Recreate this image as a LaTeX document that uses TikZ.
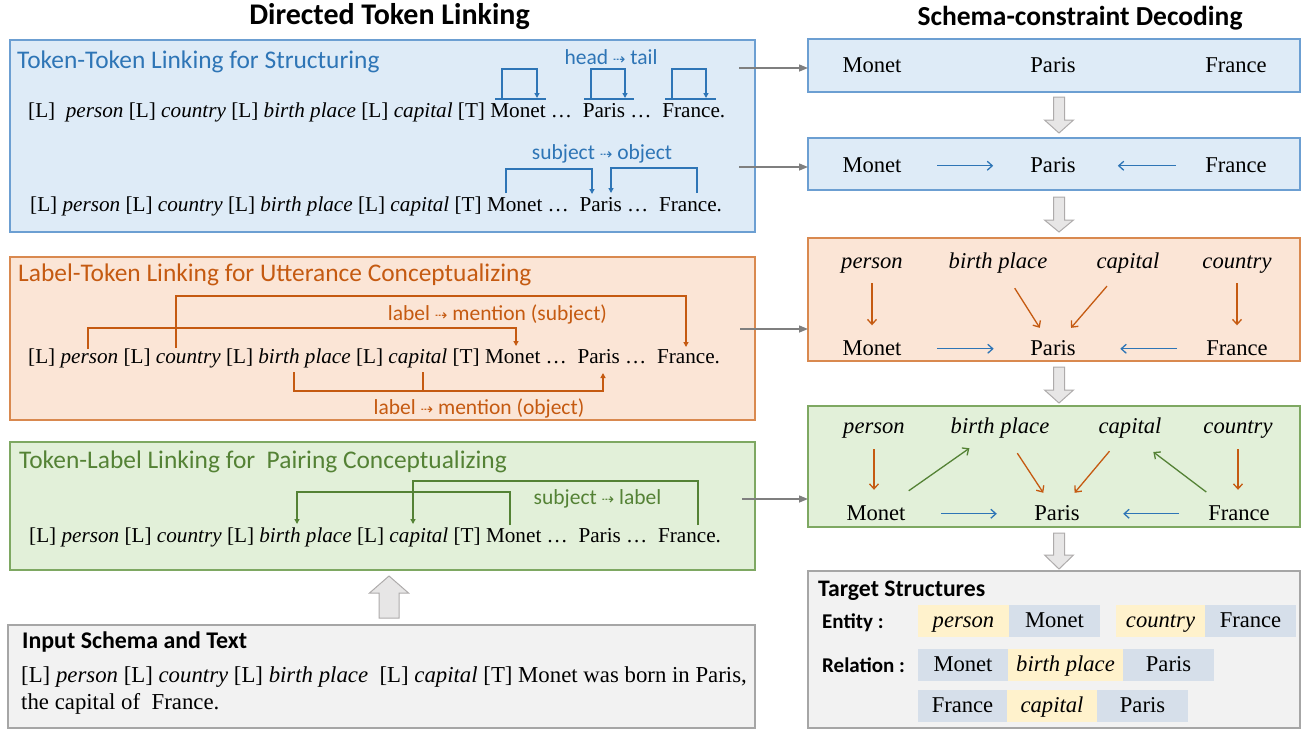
\documentclass[tikz,border=0pt]{standalone}
\usepackage{fontspec}
\setmainfont{Liberation Serif}
\newfontfamily\uif{Carlito}
\newfontfamily\symf{DejaVu Sans}
\usetikzlibrary{arrows.meta,calc}
\definecolor{bluefill}{HTML}{DEEBF7}
\definecolor{blueline}{HTML}{6C9FD2}
\definecolor{bluetxt}{HTML}{2E75B6}
\definecolor{orfill}{HTML}{FBE5D6}
\definecolor{orline}{HTML}{D9894F}
\definecolor{ortxt}{HTML}{C55A11}
\definecolor{grfill}{HTML}{E2F0D9}
\definecolor{grline}{HTML}{7EA862}
\definecolor{grtxt}{HTML}{548235}
\definecolor{grayfill}{HTML}{F2F2F2}
\definecolor{grayline}{HTML}{A6A6A6}
\definecolor{conn}{HTML}{7F7F7F}
\definecolor{blkfill}{HTML}{E7E6E6}
\definecolor{blkline}{HTML}{AEABAB}
\definecolor{chipy}{HTML}{FFF2CC}
\definecolor{chipb}{HTML}{D6DFEA}
\newcommand\dsh{{\symf\fontsize{15}{15}\selectfont ⇢}}
\newcommand\dnar[3]{\draw[blk] (1053.5,#1) -- (1064.5,#1) -- (1064.5,#2) -- (1073.5,#2) -- (1059,#3) -- (1044.5,#2) -- (1053.5,#2) -- cycle;}
\tikzset{
 box/.style={draw, line width=1.3pt, inner sep=0pt, outer sep=0pt},
 ttl/.style={anchor=west, inner sep=0pt, font=\uif\fontsize{25.4}{28}\selectfont},
 hd/.style={inner sep=0pt, font=\uif\bfseries\fontsize{#1}{32}\selectfont},
 lbl/.style={inner sep=0pt, font=\uif\fontsize{21.5}{24}\selectfont},
 rowt/.style={anchor=west, inner sep=0pt, text height=15.5pt, text depth=4.5pt, font=\fontsize{21.2}{25}\selectfont},
 inl/.style={anchor=west, inner sep=0pt, text height=16.5pt, text depth=4.5pt, font=\fontsize{22.8}{27}\selectfont},
 wd/.style={anchor=base, inner sep=0pt, text height=16.5pt, text depth=4pt, font=\fontsize{22.6}{27}\selectfont},
 iw/.style={anchor=base, inner sep=0pt, text height=16.5pt, text depth=4pt, font=\fontsize{22.6}{27}\selectfont\itshape},
 lnk/.style={line width=1.4pt, -{Triangle[length=5pt,width=5pt]}},
 plain/.style={line width=1.4pt},
 rarr/.style={line width=1.3pt, -{Straight Barb[length=5pt,width=9pt]}},
 garr/.style={conn, line width=1.4pt, -{Triangle[length=9pt,width=7pt]}},
 blk/.style={fill=blkfill, draw=blkline, line width=1pt},
 chip/.style={inner sep=0pt, minimum height=32pt, text height=16.5pt, text depth=4pt, font=\fontsize{22.6}{27}\selectfont},
 ichip/.style={chip, fill=chipy, font=\fontsize{22.6}{27}\selectfont\itshape},
 bchip/.style={chip, fill=chipb},
 bold/.style={anchor=west, inner sep=0pt, font=\uif\bfseries\fontsize{#1}{#1}\selectfont},
}
\begin{document}
\begin{tikzpicture}[x=1pt,y=-1pt]
\useasboundingbox (0,0) rectangle (1307,729);
% headings
\node[hd=30] (h1) at (389.5,17) {Directed Token Linking};
\node[hd=27.5] (h2) at (1080,18) {Schema-constraint Decoding};

% ---------- left box 1
\node[box, draw=blueline, fill=bluefill, minimum width=745pt, minimum height=192pt] (b1) at (382.5,136) {};
\node[ttl, text=bluetxt] (t1) at (17,62) {Token-Token Linking for Structuring};
\node[rowt] (r1a) at (28,112) {[L]\ \ \textit{person} [L] \textit{country} [L] \textit{birth place} [L] \textit{capital} [T] Monet … \ Paris … \ France.};
\node[rowt] (r1b) at (30,206) {[L] \textit{person} [L] \textit{country} [L] \textit{birth place} [L] \textit{capital} [T] Monet … \ Paris … \ France.};
\node[lbl, text=bluetxt] (l1) at (611,57) {head \dsh{} tail};
\node[lbl, text=bluetxt] (l2) at (602,154) {subject \dsh{} object};
\draw[plain, bluetxt] (495,99) -- (546,99) (584,99) -- (634,99) (665,99) -- (716,99);
\draw[lnk, bluetxt] (502,99) |- (537,69) -- (537,98);
\draw[lnk, bluetxt] (591,99) |- (625,69) -- (625,98);
\draw[lnk, bluetxt] (672,99) |- (706,69) -- (706,98);
\draw[lnk, bluetxt] (506,193) |- (592,169) -- (592,194);
\draw[lnk, bluetxt] (697,193) |- (611,168) -- (611,193);

% ---------- left box 2
\node[box, draw=orline, fill=orfill, minimum width=745pt, minimum height=163pt] (b2) at (382.5,338.5) {};
\node[ttl, text=ortxt] (t2) at (18,275) {Label-Token Linking for Utterance Conceptualizing};
\node[rowt] (r2) at (28,358) {[L] \textit{person} [L] \textit{country} [L] \textit{birth place} [L] \textit{capital} [T] Monet … \ Paris … \ France.};
\node[lbl, text=ortxt] (l3) at (497.5,314) {label \dsh{} mention (subject)};
\node[lbl, text=ortxt] (l4) at (479,408) {label \dsh{} mention (object)};
\draw[lnk, ortxt] (88,349) |- (516,328) -- (516,346);
\draw[lnk, ortxt] (176,348) |- (686,296) -- (686,347);
\draw[lnk, ortxt] (294,372) |- (603,391) -- (603,373);
\draw[plain, ortxt] (423,372) -- (423,391);

% ---------- left box 3
\node[box, draw=grline, fill=grfill, minimum width=745pt, minimum height=128pt] (b3) at (382.5,506) {};
\node[ttl, text=grtxt] (t3) at (19,462) {Token-Label Linking for\ \ Pairing Conceptualizing};
\node[rowt] (r3) at (29,537) {[L] \textit{person} [L] \textit{country} [L] \textit{birth place} [L] \textit{capital} [T] Monet … \ Paris … \ France.};
\node[lbl, text=grtxt] (l5) at (597.5,499) {subject \dsh{} label};
\draw[lnk, grtxt] (698,525) |- (413,481) -- (413,524);
\draw[lnk, grtxt] (510,525) |- (297,492) -- (297,524);

% up block arrow
\draw[blk] (379,618) -- (399,618) -- (399,593) -- (408.5,593) -- (389,576) -- (369.5,593) -- (379,593) -- cycle;

% ---------- input box
\node[box, draw=grayline, fill=grayfill, minimum width=747pt, minimum height=103pt] (inp) at (381.5,676.5) {};
\node[bold=23.9] (ith) at (22,642) {Input Schema and Text};
\node[inl] (it1) at (21,676) {[L] \textit{person} [L] \textit{country} [L] \textit{birth place}\ \ [L] \textit{capital} [T] Monet was born in Paris,};
\node[inl] (it2) at (21,703) {the capital of\ \ France.};

% ---------- right box 1
\node[box, draw=blueline, fill=bluefill, minimum width=492pt, minimum height=53pt] (rb1) at (1054,65.5) {};
\node[wd] (m1) at (872,72) {Monet};
\node[wd] (p1) at (1053,72) {Paris};
\node[wd] (f1) at (1236,72) {France};
\dnar{97}{120}{133}

% ---------- right box 2
\node[box, draw=blueline, fill=bluefill, minimum width=492pt, minimum height=52pt] (rb2) at (1054,164) {};
\node[wd] (m2) at (872,172) {Monet};
\node[wd] (p2) at (1053,172) {Paris};
\node[wd] (f2) at (1236,172) {France};
\draw[rarr, bluetxt, shorten <=35.5pt, shorten >=37pt] (m2) -- (p2);
\draw[rarr, bluetxt, shorten <=29.5pt, shorten >=42pt] (f2) -- (p2);
\dnar{197}{220}{232}

% ---------- right box 3
\node[box, draw=orline, fill=orfill, minimum width=492pt, minimum height=123pt] (rb3) at (1054,299.5) {};
\node[iw] (per3) at (872,268) {person};
\node[iw] (bp3) at (998,268) {birth place};
\node[iw] (cap3) at (1128,268) {capital};
\node[iw] (cty3) at (1237,268) {country};
\node[wd] (m3) at (872,355) {Monet};
\node[wd] (p3) at (1053,355) {Paris};
\node[wd] (f3) at (1237,355) {France};
\draw[rarr, ortxt, shorten <=11pt, shorten >=13pt] (per3.south) -- (per3.south |- m3.north);
\draw[rarr, ortxt, shorten <=11pt, shorten >=13pt] (cty3.south) -- (cty3.south |- f3.north);
\draw[rarr, ortxt, shorten <=18.9pt, shorten >=12.4pt] (bp3) -- (p3);
\draw[rarr, ortxt, shorten <=18.4pt, shorten >=13.8pt] (cap3) -- (p3);
\draw[rarr, bluetxt, shorten <=35.5pt, shorten >=36.5pt] (m3) -- (p3);
\draw[rarr, bluetxt, shorten <=29pt, shorten >=44.5pt] (f3) -- (p3);
\dnar{367}{390}{403}

% ---------- right box 4
\node[box, draw=grline, fill=grfill, minimum width=492pt, minimum height=121pt] (rb4) at (1054,466.5) {};
\node[iw] (per4) at (874,433) {person};
\node[iw] (bp4) at (1000,433) {birth place};
\node[iw] (cap4) at (1130,433) {capital};
\node[iw] (cty4) at (1238,433) {country};
\node[wd] (m4) at (876,520) {Monet};
\node[wd] (p4) at (1057,520) {Paris};
\node[wd] (f4) at (1239,520) {France};
\draw[rarr, ortxt, shorten <=12pt, shorten >=13.5pt] (per4.south) -- (per4.south |- m4.north);
\draw[rarr, ortxt, shorten <=12pt, shorten >=13.5pt] (cty4.south) -- (cty4.south |- f4.north);
\draw[rarr, ortxt, shorten <=19.1pt, shorten >=12.6pt] (bp4) -- (p4);
\draw[rarr, ortxt, shorten <=18.3pt, shorten >=13.7pt] (cap4) -- (p4);
\draw[rarr, grtxt, shorten <=21.8pt, shorten >=19.2pt] (m4) -- (bp4);
\draw[rarr, grtxt, shorten <=36pt, shorten >=41.8pt] ($(f4)+(-4,0)$) -- ($(cap4)+(-10,0)$);
\draw[rarr, bluetxt, shorten <=35.5pt, shorten >=37.4pt] (m4) -- (p4);
\draw[rarr, bluetxt, shorten <=29pt, shorten >=43.4pt] (f4) -- (p4);
\dnar{533}{555}{569}

% gray connectors
\coordinate (s1) at (739,68);
\coordinate (s2) at (739,167);
\coordinate (s3) at (740,329);
\coordinate (s4) at (742,499);
\draw[garr] (s1) -- (s1 -| rb1.west);
\draw[garr] (s2) -- (s2 -| rb2.west);
\draw[garr] (s3) -- (s3 -| rb3.west);
\draw[garr] (s4) -- (s4 -| rb4.west);

% ---------- target box
\node[box, draw=grayline, fill=grayfill, minimum width=492pt, minimum height=157pt] (tgt) at (1054,649.5) {};
\node[bold=23.7] (tst) at (818,591) {Target Structures};
\node[bold=21] (ent) at (822,623) {Entity :};
\node[bold=21] (rel) at (822,665) {Relation :};
\node[ichip, minimum width=91pt] (c1) at (963.5,621) {person};
\node[bchip, minimum width=91pt] (c2) at (1054.5,621) {Monet};
\node[ichip, minimum width=89pt] (c3) at (1160.5,621) {country};
\node[bchip, minimum width=91pt] (c4) at (1250.5,621) {France};
\node[bchip, minimum width=90pt] (c5) at (963,665) {Monet};
\node[ichip, minimum width=115pt] (c6) at (1065.5,665) {birth place};
\node[bchip, minimum width=91pt] (c7) at (1168.5,665) {Paris};
\node[bchip, minimum width=89pt] (c8) at (962.5,706) {France};
\node[ichip, minimum width=90pt] (c9) at (1052,706) {capital};
\node[bchip, minimum width=91pt] (c10) at (1142.5,706) {Paris};
\end{tikzpicture}
\end{document}
